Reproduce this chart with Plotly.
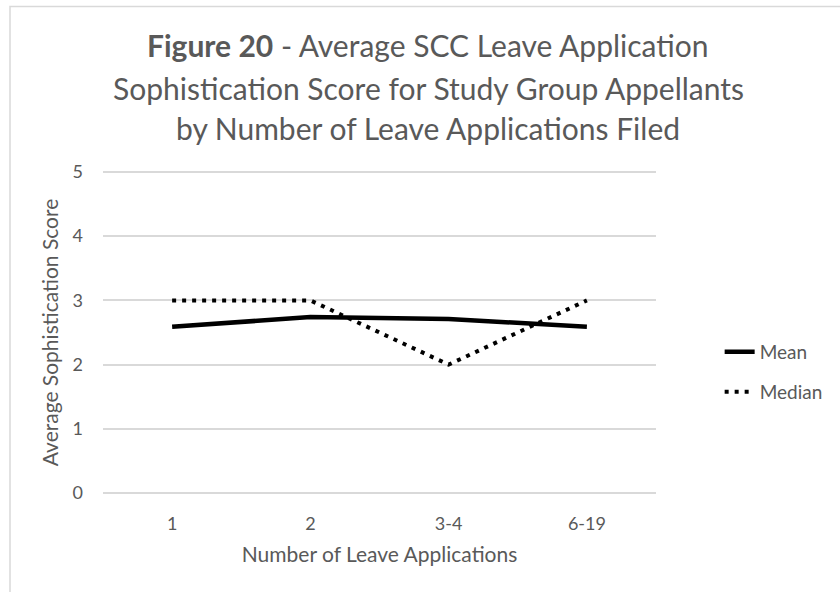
import plotly.graph_objects as go

# Categories and series values
categories = ["1", "2", "3-4", "6-19"]
mean_scores = [2.59, 2.74, 2.71, 2.59]
median_scores = [3, 3, 2, 3]
y_ticks = [0, 1, 2, 3, 4, 5]

title_lines = [
    "<b>Figure 20</b> - Average SCC Leave Application",
    "Sophistication Score for Study Group Appellants",
    "by Number of Leave Applications Filed",
]

FONT = "Lato"
TEXT = "#595959"
GRID = "#d9d9d9"

W, H = 840, 592
L, R, T, B = 103, 181, 170, 97
PW, PH = W - L - R, H - T - B

# padding (in data units) so the gridlines at 0 and 5 are not clipped at the edges
pad = 0.03


def px_x(x):
    return (x - L) / PW


def px_y(y):
    return (H - B - y) / PH


fig = go.Figure()
fig.add_trace(go.Scatter(
    x=categories, y=mean_scores, name="Mean", mode="lines",
    line=dict(color="black", width=4.5), legend="legend",
))
fig.add_trace(go.Scatter(
    x=categories, y=median_scores, name="Median", mode="lines",
    line=dict(color="black", width=4, dash="4px,6px"), legend="legend2",
))

legend_style = dict(
    xanchor="left", yanchor="middle", x=px_x(723),
    font=dict(family=FONT, size=19, color=TEXT),
    bgcolor="rgba(0,0,0,0)", borderwidth=0,
)

fig.update_layout(
    width=W, height=H,
    margin=dict(l=L, r=R, t=T, b=B),
    paper_bgcolor="white", plot_bgcolor="white",
    font=dict(family=FONT, color=TEXT),
    showlegend=True,
    legend=dict(y=px_y(352), **legend_style),
    legend2=dict(y=px_y(392), **legend_style),
    xaxis=dict(
        type="category", categoryarray=categories,
        range=[-0.5, len(categories) - 0.5],
        showgrid=False, zeroline=False, showline=False, ticks="",
        ticklabelstandoff=16,
        tickfont=dict(family=FONT, size=18, color=TEXT),
        title=dict(text="Number of Leave Applications",
                   font=dict(family=FONT, size=21, color=TEXT), standoff=14),
    ),
    yaxis=dict(
        range=[-pad, 5 + pad], tickvals=y_ticks,
        showgrid=True, gridcolor=GRID, gridwidth=1.5,
        zeroline=False, showline=False, ticks="",
        ticklabelstandoff=19,
        tickfont=dict(family=FONT, size=18, color=TEXT),
        title=dict(text="Average Sophistication Score",
                   font=dict(family=FONT, size=21, color=TEXT), standoff=8),
    ),
    shapes=[dict(
        type="path", xref="paper", yref="paper",
        path=f"M {px_x(9.5)},-1 L {px_x(9.5)},{px_y(6.5)} L 2,{px_y(6.5)}",
        line=dict(color=GRID, width=1.5),
    )],
)

for text, yc in zip(title_lines, [45, 88, 128]):
    fig.add_annotation(
        text=text, xref="paper", yref="paper",
        x=px_x(430), y=px_y(yc), xanchor="center", yanchor="middle",
        showarrow=False, font=dict(family=FONT, size=30, color=TEXT),
    )

fig.write_html("out.html")
